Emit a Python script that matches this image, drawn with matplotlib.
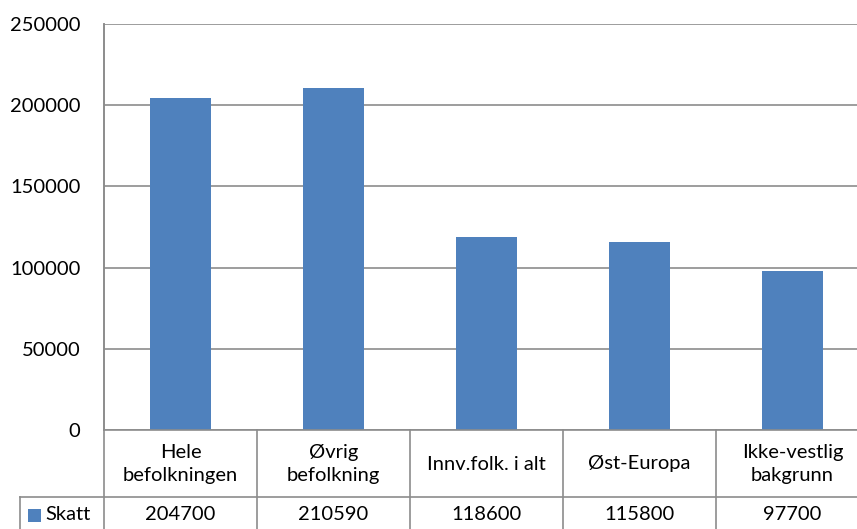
import matplotlib.pyplot as plt
from matplotlib.patches import Rectangle

categories = ["Hele\nbefolkningen", "Øvrig\nbefolkning", "Innv.folk. i alt", "Øst-Europa", "Ikke-vestlig\nbakgrunn"]
values = [204700, 210590, 118600, 115800, 97700]
value_labels = ["204700", "210590", "118600", "115800", "97700"]
series_name = "Skatt"
yticks = [0, 50000, 100000, 150000, 200000, 250000]

BLUE = "#4F81BD"
GRID = "#8C8C8C"
FONT = ["Lato", "DejaVu Sans"]
FS = 14.5

W, H = 857, 529
fig = plt.figure(figsize=(W / 100, H / 100), dpi=100)
fig.patch.set_facecolor("white")

left, right, top, bottom = 104, 869, 24, 430
ax = fig.add_axes([left / W, 1 - bottom / H, (right - left) / W, (bottom - top) / H])

x = range(len(values))
ax.bar(x, values, width=0.4, color=BLUE, zorder=3)
ax.set_xlim(-0.5, len(values) - 0.5)
ax.set_ylim(0, 250000)
ax.set_yticks(yticks)
ax.set_yticklabels([str(t) for t in yticks], fontsize=FS, family=FONT)
ax.tick_params(axis="y", length=0, pad=17)
ax.set_xticks([])
ax.yaxis.grid(True, color=GRID, lw=1.2, zorder=0)
for s in ["top", "right", "bottom"]:
    ax.spines[s].set_visible(False)
ax.spines["left"].set_color(GRID)
ax.spines["left"].set_linewidth(1.2)
ax.spines["left"].set_bounds(0, 250000)

# data table beneath the plot
ah = bottom - top
row1 = -(497 - bottom) / ah
lowest = -(540 - bottom) / ah
legend_left = -(left - 20) / (right - left)

ax.axhline(0, xmin=0, xmax=1, color=GRID, lw=1.2, clip_on=False, zorder=4)
ax.plot([legend_left, 1], [row1, row1], transform=ax.transAxes, color=GRID, lw=1.2, clip_on=False)
ax.plot([0, 0], [lowest, 1], transform=ax.transAxes, color=GRID, lw=1.2, clip_on=False)
ax.plot([legend_left, legend_left], [row1, lowest], transform=ax.transAxes, color=GRID, lw=1.2, clip_on=False)
for i in range(1, len(values)):
    ax.plot([i - 0.5, i - 0.5], [lowest, 0], transform=ax.get_xaxis_transform(),
            color=GRID, lw=1.2, clip_on=False)

for i, (cat, lab) in enumerate(zip(categories, value_labels)):
    ax.text(i, -(464 - bottom) / ah, cat, transform=ax.get_xaxis_transform(), ha="center",
            va="center", fontsize=FS, family=FONT, linespacing=1.45, color="#000000")
    ax.text(i, -(515 - bottom) / ah, lab, transform=ax.get_xaxis_transform(), ha="center",
            va="center", fontsize=FS, family=FONT, color="#000000")

fig.patches.append(Rectangle((28 / W, 1 - 522 / H), 13 / W, 13 / H, transform=fig.transFigure,
                             facecolor=BLUE, edgecolor="none"))
fig.text(45 / W, 1 - 515 / H, series_name, ha="left", va="center", fontsize=FS, family=FONT)

fig.savefig("out.png", dpi=100, facecolor="white")
